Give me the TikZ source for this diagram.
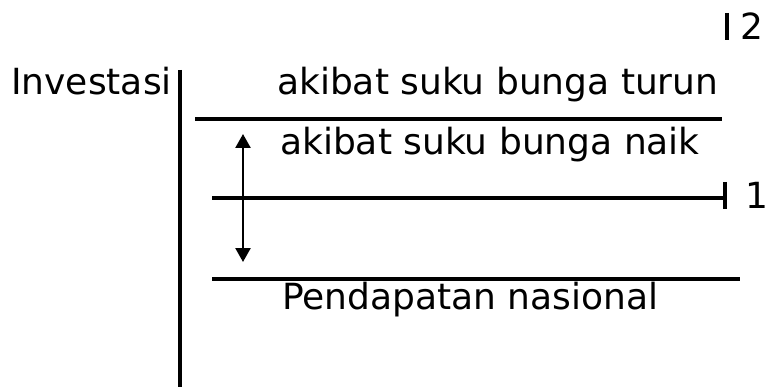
\documentclass[tikz,border=0pt]{standalone}
\usepackage{fontspec}
\setmainfont{DejaVu Sans}
\usetikzlibrary{arrows.meta}

\begin{document}
\begin{tikzpicture}[x=1pt, y=-1pt]
\tikzstyle{label}=[inner sep=0pt, anchor=base west, font=\fontsize{36}{42}\selectfont]
\tikzstyle{axis}=[line width=3.2pt]
\tikzstyle{curve}=[line width=3.2pt]
\tikzstyle{move}=[line width=2.5pt, {Triangle[length=14pt, width=15pt]}-{Triangle[length=14pt, width=15pt]}]

\useasboundingbox (0,0) rectangle (767,387);

% Draw the axis and its name
\coordinate (AxisTop) at (180,70);
\coordinate (AxisEnd) at (180,387);
\draw [axis] (AxisTop) -- (AxisEnd);
\node [label, anchor=base east] (Invest) at (172,95) {Investasi};

% Draw the three investment lines
\coordinate (TopL) at (195,119);
\coordinate (TopR) at (722,119);
\coordinate (MidL) at (212,198);
\coordinate (MidR) at (725,198);
\coordinate (LowL) at (212,279);
\coordinate (LowR) at (740,279);
\draw [curve] (TopL) -- (TopR);
\draw [curve] (MidL) -- (MidR);
\draw [curve] (LowL) -- (LowR);

% Ticks with their numbers
\coordinate (TickOneA) at (725,182);
\coordinate (TickOneB) at (725,209);
\draw [curve] (TickOneA) -- (TickOneB);
\node [label] (One) at (745,208) {1};
\coordinate (TickTwoA) at (727,13);
\coordinate (TickTwoB) at (727,40);
\draw [curve] (TickTwoA) -- (TickTwoB);
\node [label] (Two) at (740,40) {2};

% Shift of the line
\coordinate (ShiftUp) at (243,134);
\coordinate (ShiftDown) at (243,262);
\draw [move] (ShiftDown) -- (ShiftUp);

% Texts
\node [label] (Turun) at (277,95) {akibat suku bunga turun};
\node [label] (Naik) at (280,155) {akibat suku bunga naik};
\node [label] (Income) at (282,309) {Pendapatan nasional};

\end{tikzpicture}
\end{document}
